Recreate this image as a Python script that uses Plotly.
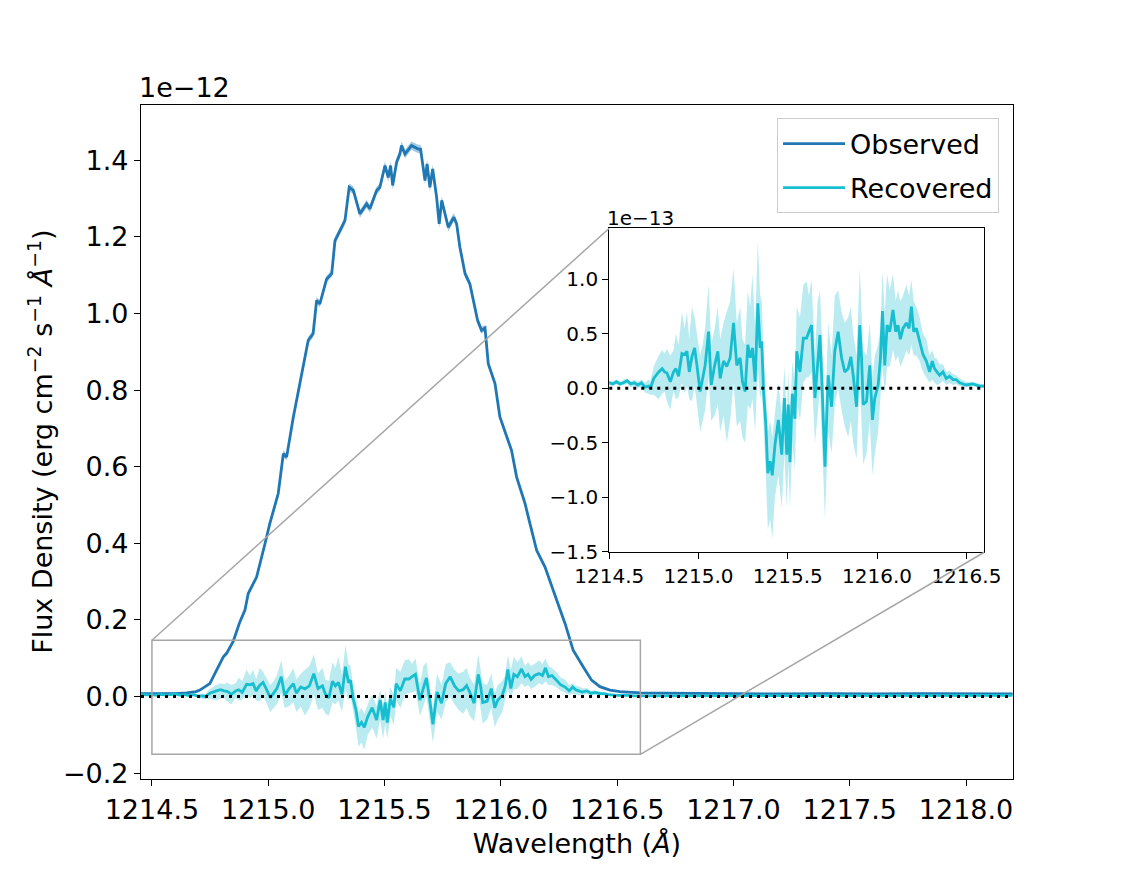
import numpy as np
import plotly.graph_objects as go

# Observed Lyman-alpha profile (units of 1e-12 erg cm^-2 s^-1 A^-1)
obs_wave = [
    1214.45, 1214.50, 1214.55, 1214.60, 1214.65, 1214.69, 1214.706, 1214.735, 1214.749, 1214.778,
    1214.807, 1214.821, 1214.850, 1214.878, 1214.900, 1214.914, 1214.950, 1214.986, 1215.007, 1215.043,
    1215.065, 1215.079, 1215.108, 1215.136, 1215.172, 1215.193, 1215.208, 1215.222, 1215.251, 1215.273,
    1215.287, 1215.316, 1215.330, 1215.348, 1215.366, 1215.394, 1215.423, 1215.437, 1215.466, 1215.480,
    1215.502, 1215.516, 1215.526, 1215.535, 1215.552, 1215.566, 1215.573, 1215.588, 1215.616, 1215.645,
    1215.655, 1215.674, 1215.683, 1215.695, 1215.707, 1215.724, 1215.735, 1215.746, 1215.774, 1215.798,
    1215.810, 1215.824, 1215.846, 1215.867, 1215.881, 1215.900, 1215.917, 1215.932, 1215.946, 1215.975,
    1215.996, 1216.025, 1216.046, 1216.068, 1216.104, 1216.125, 1216.154, 1216.190, 1216.211, 1216.240,
    1216.276, 1216.311, 1216.354, 1216.390, 1216.426, 1216.469, 1216.512, 1216.60, 1216.70, 1216.85,
    1217.00, 1217.20, 1217.40, 1217.60, 1217.80, 1218.00, 1218.20,
]
obs_flux = [
    0.008, 0.008, 0.009, 0.008, 0.010, 0.013, 0.017, 0.030, 0.034, 0.069,
    0.104, 0.113, 0.145, 0.195, 0.226, 0.269, 0.312, 0.399, 0.452, 0.530,
    0.634, 0.625, 0.730, 0.817, 0.930, 0.947, 1.034, 1.025, 1.090, 1.104,
    1.190, 1.225, 1.243, 1.329, 1.321, 1.260, 1.286, 1.273, 1.321, 1.329,
    1.386, 1.355, 1.386, 1.334, 1.395, 1.416, 1.438, 1.416, 1.438, 1.429,
    1.429, 1.347, 1.390, 1.329, 1.377, 1.303, 1.234, 1.295, 1.225, 1.251,
    1.234, 1.173, 1.104, 1.077, 1.034, 0.982, 0.956, 0.962, 0.869, 0.817,
    0.730, 0.677, 0.643, 0.573, 0.504, 0.452, 0.382, 0.338, 0.304, 0.252,
    0.191, 0.121, 0.078, 0.043, 0.026, 0.017, 0.013, 0.010, 0.009, 0.008,
    0.008, 0.007, 0.008, 0.007, 0.008, 0.007, 0.007,
]
obs_err = [
    0.002, 0.002, 0.002, 0.002, 0.002, 0.002, 0.003, 0.003, 0.004, 0.004,
    0.005, 0.005, 0.005, 0.006, 0.006, 0.007, 0.007, 0.008, 0.008, 0.008,
    0.009, 0.009, 0.009, 0.009, 0.009, 0.009, 0.009, 0.009, 0.009, 0.009,
    0.010, 0.010, 0.010, 0.010, 0.010, 0.010, 0.010, 0.010, 0.010, 0.010,
    0.011, 0.011, 0.011, 0.011, 0.011, 0.011, 0.011, 0.011, 0.011, 0.011,
    0.011, 0.011, 0.011, 0.011, 0.011, 0.011, 0.011, 0.011, 0.011, 0.011,
    0.010, 0.010, 0.010, 0.009, 0.009, 0.009, 0.009, 0.008, 0.008, 0.008,
    0.008, 0.007, 0.007, 0.007, 0.006, 0.006, 0.006, 0.005, 0.005, 0.005,
    0.004, 0.004, 0.003, 0.003, 0.003, 0.002, 0.002, 0.002, 0.002, 0.002,
    0.002, 0.002, 0.002, 0.002, 0.002, 0.002, 0.002,
]

# Recovered profile and its band (units of 1e-13)
rec_wave = [
    1214.45, 1214.48, 1214.50, 1214.52, 1214.54, 1214.56, 1214.58, 1214.60, 1214.62, 1214.64,
    1214.66, 1214.68, 1214.70, 1214.72, 1214.73, 1214.749, 1214.777, 1214.796, 1214.810, 1214.823,
    1214.842, 1214.860, 1214.873, 1214.888, 1214.907, 1214.922, 1214.935, 1214.948, 1214.963, 1214.978,
    1214.991, 1215.009, 1215.023, 1215.037, 1215.056, 1215.071, 1215.090, 1215.108, 1215.121, 1215.140,
    1215.158, 1215.177, 1215.196, 1215.214, 1215.233, 1215.246, 1215.261, 1215.276, 1215.289, 1215.302,
    1215.317, 1215.332, 1215.345, 1215.354, 1215.364, 1215.377, 1215.388, 1215.401, 1215.413, 1215.428,
    1215.447, 1215.466, 1215.481, 1215.494, 1215.503, 1215.512, 1215.525, 1215.540, 1215.550, 1215.568,
    1215.587, 1215.605, 1215.618, 1215.633, 1215.652, 1215.667, 1215.680, 1215.693, 1215.708, 1215.726,
    1215.745, 1215.763, 1215.782, 1215.801, 1215.819, 1215.838, 1215.853, 1215.866, 1215.885, 1215.903,
    1215.913, 1215.922, 1215.941, 1215.959, 1215.974, 1215.987, 1216.006, 1216.019, 1216.030, 1216.043,
    1216.056, 1216.071, 1216.089, 1216.104, 1216.117, 1216.130, 1216.145, 1216.164, 1216.179, 1216.192,
    1216.205, 1216.220, 1216.238, 1216.257, 1216.276, 1216.294, 1216.309, 1216.322, 1216.335, 1216.350,
    1216.369, 1216.387, 1216.406, 1216.425, 1216.443, 1216.462, 1216.499, 1216.536, 1216.574, 1216.596,
    1216.70, 1216.85, 1217.00, 1217.20, 1217.40, 1217.60, 1217.80, 1218.00, 1218.20,
]
rec_flux = [
    0.05, 0.04, 0.05, 0.04, 0.06, 0.04, 0.05, 0.07, 0.04, 0.05,
    0.03, 0.05, 0.01, 0.02, 0.00, 0.09, 0.15, 0.18, 0.15, 0.14,
    0.06, 0.15, 0.18, 0.11, 0.32, 0.31, 0.34, 0.15, 0.29, 0.37,
    0.21, -0.03, 0.09, 0.21, 0.52, 0.03, 0.21, 0.34, 0.09, 0.25,
    0.20, 0.28, 0.60, 0.21, 0.28, 0.06, -0.03, 0.40, 0.28, 0.37,
    0.06, 0.78, 0.37, 0.43, -0.03, -0.34, -0.78, -0.67, -0.80, -0.52,
    -0.29, -0.61, -0.09, -0.61, -0.15, -0.68, -0.05, -0.28, 0.34, 0.15,
    0.46, 0.46, 0.52, 0.58, -0.09, 0.25, 0.49, -0.03, -0.72, 0.12,
    -0.17, 0.34, 0.52, 0.28, 0.15, 0.18, 0.29, 0.12, -0.17, 0.58,
    0.28, -0.15, -0.12, 0.21, -0.29, -0.09, 0.03, 0.28, 0.71, 0.21,
    0.58, 0.52, 0.72, 0.52, 0.58, 0.45, 0.55, 0.60, 0.55, 0.75,
    0.52, 0.55, 0.43, 0.31, 0.25, 0.15, 0.25, 0.18, 0.15, 0.12,
    0.15, 0.09, 0.11, 0.08, 0.08, 0.05, 0.03, 0.04, 0.02, 0.02,
    0.03, 0.02, 0.03, 0.02, 0.03, 0.02, 0.03, 0.02, 0.03,
]
rec_lo = [
    0.03, 0.02, 0.03, 0.02, 0.04, 0.02, 0.03, 0.04, 0.01, 0.02,
    0.00, 0.01, -0.04, -0.05, -0.06, -0.06, -0.10, -0.05, -0.03, -0.12,
    -0.20, -0.02, -0.10, -0.08, 0.05, -0.05, 0.02, -0.10, -0.12, 0.02,
    -0.15, -0.40, -0.30, -0.20, 0.10, -0.30, -0.25, -0.15, -0.40, -0.25,
    -0.50, -0.30, 0.05, -0.35, -0.30, -0.45, -0.50, -0.15, -0.20, -0.10,
    -0.40, 0.20, -0.10, 0.00, -0.40, -0.80, -1.30, -1.20, -1.38, -1.00,
    -0.80, -1.10, -0.60, -1.10, -0.70, -1.10, -0.50, -0.75, -0.10, -0.30,
    0.05, 0.10, 0.10, 0.15, -0.50, -0.25, 0.00, -0.55, -1.20, -0.40,
    -0.60, -0.15, 0.00, -0.20, -0.35, -0.45, -0.30, -0.50, -0.65, 0.10,
    -0.30, -0.70, -0.60, -0.30, -0.80, -0.60, -0.40, -0.10, 0.20, -0.05,
    0.20, 0.20, 0.35, 0.25, 0.30, 0.20, 0.25, 0.35, 0.30, 0.40,
    0.30, 0.30, 0.25, 0.15, 0.10, 0.05, 0.08, 0.05, 0.03, 0.04,
    0.07, 0.03, 0.05, 0.03, 0.04, 0.02, 0.01, 0.02, 0.00, 0.00,
    0.01, 0.00, 0.01, 0.00, 0.01, 0.00, 0.01, 0.00, 0.01,
]
rec_hi = [
    0.07, 0.06, 0.07, 0.06, 0.08, 0.06, 0.08, 0.09, 0.06, 0.08,
    0.06, 0.08, 0.05, 0.08, 0.06, 0.20, 0.30, 0.35, 0.32, 0.36,
    0.30, 0.35, 0.50, 0.40, 0.70, 0.55, 0.70, 0.45, 0.75, 0.65,
    0.50, 0.30, 0.40, 0.55, 0.95, 0.40, 0.55, 0.75, 0.45, 0.60,
    0.70, 0.80, 1.10, 0.60, 0.75, 0.45, 0.40, 0.90, 0.75, 1.05,
    0.55, 1.35, 0.85, 0.80, 0.30, 0.00, -0.40, -0.30, -0.45, -0.20,
    0.05, -0.25, 0.20, -0.25, 0.15, -0.30, 0.25, 0.05, 0.75, 0.65,
    0.95, 0.98, 0.85, 1.00, 0.30, 0.80, 0.90, 0.40, -0.30, 0.60,
    0.30, 0.85, 0.90, 0.70, 0.60, 0.65, 0.75, 0.50, 0.30, 1.10,
    0.70, 0.35, 0.30, 0.60, 0.10, 0.30, 0.40, 0.55, 1.08, 0.70,
    1.05, 0.90, 1.05, 0.80, 0.90, 0.80, 0.85, 0.95, 0.85, 1.00,
    0.80, 0.75, 0.65, 0.50, 0.45, 0.30, 0.35, 0.28, 0.27, 0.22,
    0.22, 0.15, 0.16, 0.13, 0.12, 0.09, 0.06, 0.06, 0.04, 0.04,
    0.05, 0.04, 0.05, 0.04, 0.05, 0.04, 0.05, 0.04, 0.05,
]

main_xticks = [1214.5, 1215.0, 1215.5, 1216.0, 1216.5, 1217.0, 1217.5, 1218.0]
main_yticks = [-0.2, 0.0, 0.2, 0.4, 0.6, 0.8, 1.0, 1.2, 1.4]
inset_xticks = [1214.5, 1215.0, 1215.5, 1216.0, 1216.5]
inset_yticks = [-1.5, -1.0, -0.5, 0.0, 0.5, 1.0]

BLUE = "#1f77b4"
CYAN = "#17becf"
GREY = "#a6a6a6"
FONT = "DejaVu Sans"

main_xrange = [1214.453, 1218.202]
main_yrange = [-0.215, 1.544]
inset_xrange = [1214.5, 1216.6]
inset_yrange = [-1.507, 1.47]
inset_xdom = [0.537, 0.967]
inset_ydom = [0.3364, 0.8171]

obs_w = np.array(obs_wave)
obs_f = np.array(obs_flux)
obs_e = np.array(obs_err)
rec_w = np.array(rec_wave)
rec_f = np.array(rec_flux)
rec_l = np.array(rec_lo)
rec_h = np.array(rec_hi)


def band(x, lo, hi, color, xa, ya):
    return go.Scatter(
        x=np.concatenate([x, x[::-1]]),
        y=np.concatenate([hi, lo[::-1]]),
        fill="toself", fillcolor=color, line=dict(width=0),
        mode="lines", hoverinfo="skip", showlegend=False,
        xaxis=xa, yaxis=ya,
    )


fig = go.Figure()

# main axes (1e-12 units)
fig.add_trace(band(obs_w, obs_f - obs_e, obs_f + obs_e,
                   "rgba(31,119,180,0.4)", "x", "y"))
fig.add_trace(go.Scatter(x=obs_w, y=obs_f, mode="lines", name="Observed",
                         legendgroup="obs",
                         line=dict(color=BLUE, width=2.8)))
fig.add_trace(band(rec_w, rec_l / 10, rec_h / 10,
                   "rgba(23,190,207,0.3)", "x", "y"))
fig.add_trace(go.Scatter(x=rec_w, y=rec_f / 10, mode="lines", name="Recovered",
                         legendgroup="rec",
                         line=dict(color=CYAN, width=2.8)))

# inset axes (1e-13 units)
fig.add_trace(band(rec_w, rec_l, rec_h, "rgba(23,190,207,0.3)", "x2", "y2"))
fig.add_trace(go.Scatter(x=rec_w, y=rec_f, mode="lines", showlegend=False,
                         line=dict(color=CYAN, width=2.8),
                         xaxis="x2", yaxis="y2"))

axis_style = dict(showline=True, linecolor="black", linewidth=1.2, mirror=True,
                  ticks="outside", ticklen=6, tickwidth=1.2, tickcolor="black",
                  showgrid=False, zeroline=False, tickformat=".1f")

# the page adds an 8px body margin, so margins are trimmed by 8px
fig.update_layout(
    width=1125, height=875,
    margin=dict(l=133, r=120, t=97, b=104),
    paper_bgcolor="white", plot_bgcolor="white",
    font=dict(family=FONT, size=27, color="black"),
    xaxis=dict(axis_style, range=main_xrange, tickvals=main_xticks,
               domain=[0, 1], anchor="y",
               title=dict(text="Wavelength (<i>Å</i>)", standoff=10,
                          font=dict(size=27))),
    yaxis=dict(axis_style, range=main_yrange, tickvals=main_yticks,
               domain=[0, 1], anchor="x"),
    xaxis2=dict(axis_style, range=inset_xrange, tickvals=inset_xticks,
                domain=inset_xdom, anchor="y2", tickfont=dict(size=20)),
    yaxis2=dict(axis_style, range=inset_yrange, tickvals=inset_yticks,
                domain=inset_ydom, anchor="x2", tickfont=dict(size=20)),
    legend=dict(x=0.984, y=0.98, xanchor="right", yanchor="top",
                bgcolor="rgba(255,255,255,0.8)", bordercolor="#cccccc",
                borderwidth=1, font=dict(size=27), itemwidth=62,
                tracegroupgap=6, traceorder="grouped"),
    showlegend=True,
)

# zero reference lines
fig.add_shape(type="line", xref="x domain", yref="y", x0=0, x1=1, y0=0, y1=0,
              line=dict(color="black", width=3, dash="3px,5px"), layer="above")
fig.add_shape(type="line", xref="x2 domain", yref="y2", x0=0, x1=1, y0=0, y1=0,
              line=dict(color="black", width=3, dash="3px,5px"), layer="above")

# zoom box on the main axes and connectors to the inset
box_y0 = inset_yrange[0] / 10
box_y1 = inset_yrange[1] / 10
fig.add_shape(type="rect", xref="x", yref="y",
              x0=inset_xrange[0], x1=inset_xrange[1], y0=box_y0, y1=box_y1,
              line=dict(color=GREY, width=1.5), layer="above")


def to_paper(xv, yv):
    px = (xv - main_xrange[0]) / (main_xrange[1] - main_xrange[0])
    py = (yv - main_yrange[0]) / (main_yrange[1] - main_yrange[0])
    return px, py


tl = to_paper(inset_xrange[0], box_y1)
br = to_paper(inset_xrange[1], box_y0)
fig.add_shape(type="line", xref="paper", yref="paper",
              x0=tl[0], y0=tl[1], x1=inset_xdom[0], y1=inset_ydom[1],
              line=dict(color=GREY, width=1.5), layer="above")
fig.add_shape(type="line", xref="paper", yref="paper",
              x0=br[0], y0=br[1], x1=inset_xdom[1], y1=inset_ydom[0],
              line=dict(color=GREY, width=1.5), layer="above")

# offset labels and y title
fig.add_annotation(text="1e−12", xref="paper", yref="paper", x=0, y=1,
                   xanchor="left", yanchor="bottom", showarrow=False,
                   xshift=-4, font=dict(size=27))
fig.add_annotation(text="1e−13", xref="paper", yref="paper",
                   x=inset_xdom[0], y=inset_ydom[1],
                   xanchor="left", yanchor="bottom", showarrow=False,
                   xshift=-4, yshift=-4, font=dict(size=20))
fig.add_annotation(text="Flux Density (erg cm<sup>−2</sup> s<sup>−1</sup> <i>Å</i><sup>−1</sup>)",
                   xref="paper", yref="paper", x=-0.116, y=0.5,
                   xanchor="center", yanchor="middle", textangle=-90,
                   showarrow=False, font=dict(size=27))

fig.write_html("out.html")
